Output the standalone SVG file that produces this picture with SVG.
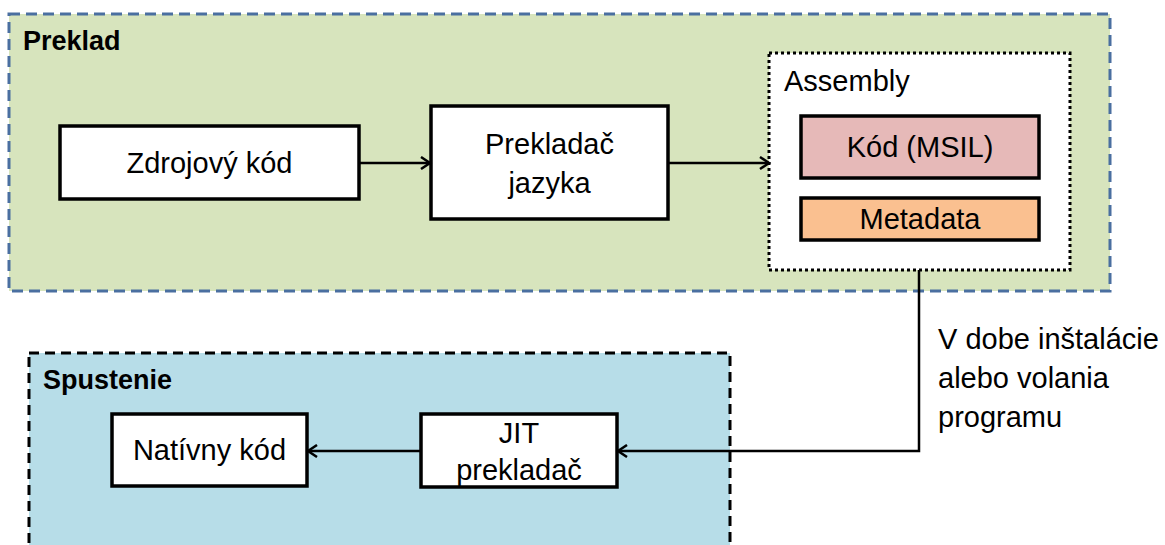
<svg xmlns="http://www.w3.org/2000/svg" width="1165" height="545" viewBox="0 0 1165 545">
<style>
text{font-family:"Liberation Sans",Arial,sans-serif;fill:#000}
.t{font-size:29px}
.h{font-size:27px;font-weight:bold}
.box{fill:#fff;stroke:#000;stroke-width:3.5}
.c{fill:none;stroke:#000;stroke-width:2.5}
</style>
<defs>
<marker id="ah" markerWidth="14" markerHeight="14" refX="11" refY="7" orient="auto" markerUnits="userSpaceOnUse">
<polyline points="2,1 11,7 2,13" fill="none" stroke="#000" stroke-width="2.5"/>
</marker>
</defs>
<g id="preklad">
<rect x="9" y="14" width="1101" height="277" fill="#d7e4bd" stroke="#4a6fa0" stroke-width="3" stroke-dasharray="11,6"/>
<text class="h" x="23" y="50">Preklad</text>
</g>
<g id="spustenie">
<rect x="29" y="353" width="701" height="210" fill="#b7dde8" stroke="#000" stroke-width="3" stroke-dasharray="10,6"/>
<text class="h" x="43" y="389">Spustenie</text>
</g>
<g id="zdroj">
<rect class="box" x="60" y="126" width="299" height="73"/>
<text class="t" x="209.5" y="173" text-anchor="middle">Zdrojový kód</text>
</g>
<g id="prekladac">
<rect class="box" x="431" y="106" width="237" height="113"/>
<text class="t" x="549.5" y="154" text-anchor="middle">Prekladač</text>
<text class="t" x="549.5" y="193" text-anchor="middle">jazyka</text>
</g>
<g id="assembly">
<rect x="769" y="53" width="301" height="217" fill="#fff" stroke="#000" stroke-width="3" stroke-dasharray="3,3"/>
<text class="t" x="784" y="91">Assembly</text>
</g>
<g id="msil">
<rect x="801" y="116" width="238" height="62" fill="#e6b9b8" stroke="#000" stroke-width="3.5"/>
<text class="t" x="920" y="157" text-anchor="middle">Kód (MSIL)</text>
</g>
<g id="metadata">
<rect x="801" y="198" width="238" height="42" fill="#fac090" stroke="#000" stroke-width="3.5"/>
<text class="t" x="920" y="229" text-anchor="middle">Metadata</text>
</g>
<g id="jit">
<rect class="box" x="421" y="414" width="196" height="73"/>
<text class="t" x="519" y="443" text-anchor="middle">JIT</text>
<text class="t" x="519" y="480" text-anchor="middle">prekladač</text>
</g>
<g id="nativny">
<rect class="box" x="112" y="414" width="195" height="72"/>
<text class="t" x="209.5" y="460" text-anchor="middle">Natívny kód</text>
</g>
<g id="connectors">
<line class="c" x1="359" y1="163" x2="430" y2="163" marker-end="url(#ah)"/>
<line class="c" x1="668" y1="163" x2="769" y2="163" marker-end="url(#ah)"/>
<polyline class="c" points="919,270 919,451 618,451" marker-end="url(#ah)"/>
<line class="c" x1="421" y1="451" x2="308" y2="451" marker-end="url(#ah)"/>
</g>
<g id="label">
<text class="t" x="938" y="349">V dobe inštalácie</text>
<text class="t" x="938" y="388">alebo volania</text>
<text class="t" x="938" y="427">programu</text>
</g>
</svg>
